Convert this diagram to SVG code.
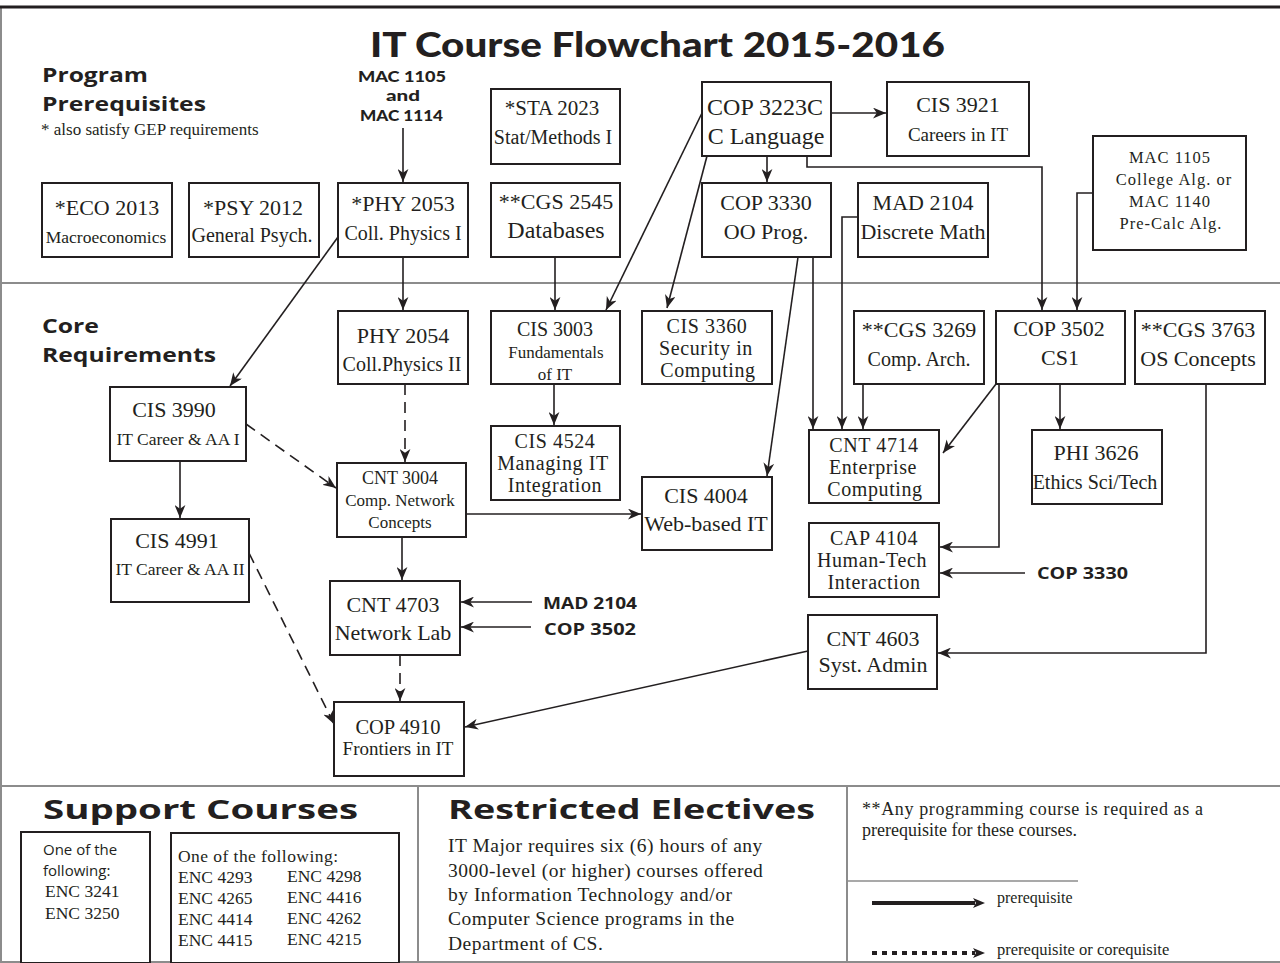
<svg xmlns="http://www.w3.org/2000/svg" width="1280" height="963" viewBox="0 0 1280 963">
<style>
.bx{fill:#fff;stroke:#231f20;stroke-width:2}
.t{font-family:"Liberation Serif",serif;fill:#231f20;text-anchor:middle}
.c{font-size:22px}
.m{font-size:20px;letter-spacing:0.6px}
.s{font-size:20px}
.xs{font-size:17.5px}
.h{font-family:"Open Sans","DejaVu Sans",sans-serif;font-weight:700;fill:#231f20}
.hl{font-family:Lato,"Open Sans",sans-serif;font-weight:900;fill:#231f20}
.ln{fill:none;stroke:#231f20;stroke-width:1.6}
.dash{stroke-dasharray:11 7}
.sep{stroke:#8c8c8c;stroke-width:2;fill:none}
.p{font-family:"Liberation Serif",serif;fill:#231f20}
</style>
<defs>
<marker id="a" viewBox="0 0 12 10" markerWidth="13" markerHeight="11" refX="12" refY="5" orient="auto" markerUnits="userSpaceOnUse">
<path d="M0,0 L12,5 L0,10 L3.5,5 z" fill="#231f20"/>
</marker>
<marker id="lg" viewBox="0 0 12 10" markerWidth="12" markerHeight="12" refX="2" refY="5" orient="auto" markerUnits="userSpaceOnUse">
<path d="M0,0 L12,5 L0,10 L3,5 z" fill="#231f20"/>
</marker>
</defs>
<rect width="1280" height="963" fill="#fff"/>
<g id="frame">
<line x1="1" y1="7" x2="1" y2="963" class="sep"/>
<line x1="0" y1="7" x2="1280" y2="7" stroke="#231f20" stroke-width="3"/>
<line x1="1" y1="283" x2="1280" y2="283" class="sep"/>
<line x1="1" y1="786" x2="1280" y2="786" class="sep"/>
<line x1="418" y1="786" x2="418" y2="963" class="sep"/>
<line x1="847" y1="786" x2="847" y2="963" class="sep"/>
<line x1="847" y1="881" x2="1078" y2="881" stroke="#8c8c8c" stroke-width="1.5"/>
<line x1="1" y1="962" x2="1280" y2="962" class="sep"/>
</g>
<g id="headings">
<text x="370" y="57" class="hl" font-size="35" textLength="575" lengthAdjust="spacingAndGlyphs">IT Course Flowchart 2015-2016</text>
<text x="42" y="82" class="h" font-size="19" textLength="106" lengthAdjust="spacingAndGlyphs">Program</text>
<text x="42" y="111" class="h" font-size="19" textLength="164" lengthAdjust="spacingAndGlyphs">Prerequisites</text>
<text x="41" y="135" class="p" font-size="17">* also satisfy GEP requirements</text>
<text x="358" y="82" class="hl" font-size="15.5" textLength="88" lengthAdjust="spacingAndGlyphs">MAC 1105</text>
<text x="386" y="101" class="hl" font-size="15.5" textLength="34" lengthAdjust="spacingAndGlyphs">and</text>
<text x="360" y="121" class="hl" font-size="15.5" textLength="83" lengthAdjust="spacingAndGlyphs">MAC 1114</text>
<text x="42" y="333" class="h" font-size="19" textLength="57" lengthAdjust="spacingAndGlyphs">Core</text>
<text x="42" y="362" class="h" font-size="19" textLength="174" lengthAdjust="spacingAndGlyphs">Requirements</text>
<text x="543" y="609" class="h" font-size="16.5" textLength="94" lengthAdjust="spacingAndGlyphs">MAD 2104</text>
<text x="544" y="635" class="h" font-size="16.5" textLength="92" lengthAdjust="spacingAndGlyphs">COP 3502</text>
<text x="1037" y="579" class="h" font-size="16.5" textLength="91" lengthAdjust="spacingAndGlyphs">COP 3330</text>
</g>
<g id="connectors" class="ln">
<path d="M403,128 V182" marker-end="url(#a)"/>
<path d="M831,113 H886" marker-end="url(#a)"/>
<path d="M767,156 V182" marker-end="url(#a)"/>
<path d="M807,156 V167 H1042 V310" marker-end="url(#a)"/>
<path d="M1093,193 H1077 V310" marker-end="url(#a)"/>
<path d="M702,113 L606,310" marker-end="url(#a)"/>
<path d="M707,156 L667,308" marker-end="url(#a)"/>
<path d="M555,257 V310" marker-end="url(#a)"/>
<path d="M798,257 L767,476" marker-end="url(#a)"/>
<path d="M813,257 V429" marker-end="url(#a)"/>
<path d="M858,217 H842 V429" marker-end="url(#a)"/>
<path d="M863,384 V429" marker-end="url(#a)"/>
<path d="M403,257 V310" marker-end="url(#a)"/>
<path d="M338,237 L230,386" marker-end="url(#a)"/>
<path d="M405,384 V462" class="dash" marker-end="url(#a)"/>
<path d="M246,424 L336,488" class="dash" marker-end="url(#a)"/>
<path d="M180,461 V518" marker-end="url(#a)"/>
<path d="M249,553 L334,724" class="dash" marker-end="url(#a)"/>
<path d="M466,514 H641" marker-end="url(#a)"/>
<path d="M402,537 V580" marker-end="url(#a)"/>
<path d="M400,655 V701" class="dash" marker-end="url(#a)"/>
<path d="M532,602 H461" marker-end="url(#a)"/>
<path d="M531,627 H461" marker-end="url(#a)"/>
<path d="M554,384 V425" marker-end="url(#a)"/>
<path d="M996,384 L943,453" marker-end="url(#a)"/>
<path d="M999,384 V547 H940" marker-end="url(#a)"/>
<path d="M1025,573 H940" marker-end="url(#a)"/>
<path d="M1060,384 V429" marker-end="url(#a)"/>
<path d="M1206,384 V653 H938" marker-end="url(#a)"/>
<path d="M808,651 L465,727" marker-end="url(#a)"/>
</g>
<g id="eco2013"><rect class="bx" x="42" y="183" width="130" height="74"/>
<text class="t c" x="107" y="215">*ECO 2013</text><text class="t xs" x="106" y="243">Macroeconomics</text></g>
<g id="psy2012"><rect class="bx" x="189" y="183" width="130" height="74"/>
<text class="t c" x="253" y="215">*PSY 2012</text><text class="t s" x="252" y="242">General Psych.</text></g>
<g id="phy2053"><rect class="bx" x="338" y="183" width="130" height="74"/>
<text class="t c" x="403" y="211">*PHY 2053</text><text class="t s" x="403" y="240">Coll. Physics I</text></g>
<g id="sta2023"><rect class="bx" x="491" y="89" width="129" height="75"/>
<text class="t" font-size="21" x="552" y="115">*STA 2023</text><text class="t s" x="553" y="144">Stat/Methods I</text></g>
<g id="cgs2545"><rect class="bx" x="491" y="183" width="129" height="74"/>
<text class="t c" x="556" y="209">**CGS 2545</text><text class="t" font-size="24" x="556" y="238">Databases</text></g>
<g id="cop3223c"><rect class="bx" x="702" y="82" width="129" height="74"/>
<text class="t" font-size="24" x="765" y="115">COP 3223C</text><text class="t" font-size="24" x="766" y="144">C Language</text></g>
<g id="cis3921"><rect class="bx" x="887" y="82" width="142" height="74"/>
<text class="t c" x="958" y="112">CIS 3921</text><text class="t" font-size="19" x="958" y="141">Careers in IT</text></g>
<g id="cop3330"><rect class="bx" x="702" y="183" width="129" height="74"/>
<text class="t c" x="766" y="210">COP 3330</text><text class="t c" x="766" y="239">OO Prog.</text></g>
<g id="mad2104"><rect class="bx" x="858" y="183" width="130" height="74"/>
<text class="t c" x="923" y="210">MAD 2104</text><text class="t c" x="923" y="239">Discrete Math</text></g>
<g id="mac1105"><rect class="bx" x="1093" y="136" width="153" height="114"/>
<text class="t" font-size="16.5" letter-spacing="1" x="1170" y="163"><tspan x="1170">MAC 1105</tspan><tspan x="1174" dy="22">College Alg. or</tspan><tspan x="1170" dy="22">MAC 1140</tspan><tspan x="1171" dy="22">Pre-Calc Alg.</tspan></text></g>
<g id="phy2054"><rect class="bx" x="338" y="311" width="130" height="73"/>
<text class="t c" x="403" y="343">PHY 2054</text><text class="t s" x="402" y="371">Coll.Physics II</text></g>
<g id="cis3003"><rect class="bx" x="491" y="311" width="129" height="73"/>
<text class="t" x="555" y="336"><tspan x="555" font-size="20">CIS 3003</tspan><tspan x="556" dy="22" font-size="17">Fundamentals</tspan><tspan x="555" dy="22" font-size="17">of IT</tspan></text></g>
<g id="cis3360"><rect class="bx" x="642" y="311" width="130" height="73"/>
<text class="t m" x="707" y="333"><tspan x="707">CIS 3360</tspan><tspan x="706" dy="22">Security in</tspan><tspan x="708" dy="22">Computing</tspan></text></g>
<g id="cgs3269"><rect class="bx" x="854" y="311" width="130" height="73"/>
<text class="t c" x="919" y="337">**CGS 3269</text><text class="t s" x="919" y="366">Comp. Arch.</text></g>
<g id="cop3502"><rect class="bx" x="996" y="311" width="129" height="73"/>
<text class="t c" x="1059" y="336">COP 3502</text><text class="t c" x="1060" y="365">CS1</text></g>
<g id="cgs3763"><rect class="bx" x="1135" y="311" width="130" height="73"/>
<text class="t c" x="1198" y="337">**CGS 3763</text><text class="t c" x="1198" y="366">OS Concepts</text></g>
<g id="cis3990"><rect class="bx" x="110" y="387" width="136" height="74"/>
<text class="t c" x="174" y="417">CIS 3990</text><text class="t xs" x="178" y="445">IT Career &amp; AA I</text></g>
<g id="cis4524"><rect class="bx" x="491" y="426" width="129" height="74"/>
<text class="t m" x="555" y="448"><tspan x="555">CIS 4524</tspan><tspan x="553" dy="22">Managing IT</tspan><tspan x="555" dy="22">Integration</tspan></text></g>
<g id="cnt4714"><rect class="bx" x="809" y="430" width="130" height="73"/>
<text class="t m" x="874" y="452"><tspan x="874">CNT 4714</tspan><tspan x="873" dy="22">Enterprise</tspan><tspan x="875" dy="22">Computing</tspan></text></g>
<g id="phi3626"><rect class="bx" x="1032" y="430" width="130" height="74"/>
<text class="t c" x="1096" y="460">PHI 3626</text><text class="t s" x="1095" y="489">Ethics Sci/Tech</text></g>
<g id="cnt3004"><rect class="bx" x="337" y="463" width="129" height="74"/>
<text class="t" x="401" y="484"><tspan x="400" font-size="18">CNT 3004</tspan><tspan x="400" dy="22" font-size="17">Comp. Network</tspan><tspan x="400" dy="22" font-size="17">Concepts</tspan></text></g>
<g id="cis4004"><rect class="bx" x="642" y="477" width="130" height="73"/>
<text class="t c" x="706" y="503">CIS 4004</text><text class="t c" x="706" y="531">Web-based IT</text></g>
<g id="cis4991"><rect class="bx" x="111" y="519" width="138" height="83"/>
<text class="t c" x="177" y="548">CIS 4991</text><text class="t xs" x="180" y="575">IT Career &amp; AA II</text></g>
<g id="cap4104"><rect class="bx" x="809" y="523" width="130" height="74"/>
<text class="t m" x="874" y="545"><tspan x="874">CAP 4104</tspan><tspan x="872" dy="22">Human-Tech</tspan><tspan x="874" dy="22">Interaction</tspan></text></g>
<g id="cnt4703"><rect class="bx" x="330" y="581" width="130" height="74"/>
<text class="t c" x="393" y="612">CNT 4703</text><text class="t c" x="393" y="640">Network Lab</text></g>
<g id="cnt4603"><rect class="bx" x="808" y="615" width="129" height="74"/>
<text class="t c" x="873" y="646">CNT 4603</text><text class="t c" x="873" y="672">Syst. Admin</text></g>
<g id="cop4910"><rect class="bx" x="334" y="702" width="130" height="74"/>
<text class="t" font-size="20.5" x="398" y="734">COP 4910</text><text class="t" font-size="19" x="398" y="755">Frontiers in IT</text></g>
<g id="support">
<text x="43" y="819" class="h" font-size="26" textLength="315" lengthAdjust="spacingAndGlyphs">Support Courses</text>
<rect class="bx" x="21" y="832" width="129" height="131"/>
<text x="43" y="855" font-family="'Open Sans',sans-serif" font-size="15" fill="#231f20">One of the</text>
<text x="43" y="876" font-family="'Open Sans',sans-serif" font-size="15" fill="#231f20">following:</text>
<text x="45" y="897" class="p" font-size="17.5">ENC 3241</text>
<text x="45" y="919" class="p" font-size="17.5">ENC 3250</text>
<rect class="bx" x="171" y="833" width="228" height="130"/>
<g class="p" font-size="17.5">
<text x="178" y="862" textLength="160">One of the following:</text>
<text x="178" y="883">ENC 4293</text><text x="287" y="882">ENC 4298</text>
<text x="178" y="904">ENC 4265</text><text x="287" y="903">ENC 4416</text>
<text x="178" y="925">ENC 4414</text><text x="287" y="924">ENC 4262</text>
<text x="178" y="946">ENC 4415</text><text x="287" y="945">ENC 4215</text>
</g>
</g>
<g id="electives">
<text x="448" y="819" class="h" font-size="26" textLength="367" lengthAdjust="spacingAndGlyphs">Restricted Electives</text>
<g class="p" font-size="19.5" letter-spacing="0.5">
<text x="448" y="852">IT Major requires six (6) hours of any</text>
<text x="448" y="877">3000-level (or higher) courses offered</text>
<text x="448" y="901">by Information Technology and/or</text>
<text x="448" y="925">Computer Science programs in the</text>
<text x="448" y="950">Department of CS.</text>
</g>
</g>
<g id="legend">
<text x="862" y="815" class="p" font-size="18" textLength="341">**Any programming course is required as a</text>
<text x="862" y="836" class="p" font-size="18">prerequisite for these courses.</text>
<line x1="872" y1="903" x2="975" y2="903" stroke="#231f20" stroke-width="4" marker-end="url(#lg)"/>
<text x="997" y="903" class="p" font-size="16">prerequisite</text>
<line x1="872" y1="953" x2="975" y2="953" stroke="#231f20" stroke-width="4" stroke-dasharray="5 5" marker-end="url(#lg)"/>
<text x="997" y="955" class="p" font-size="16.5">prerequisite or corequisite</text>
</g>
</svg>
